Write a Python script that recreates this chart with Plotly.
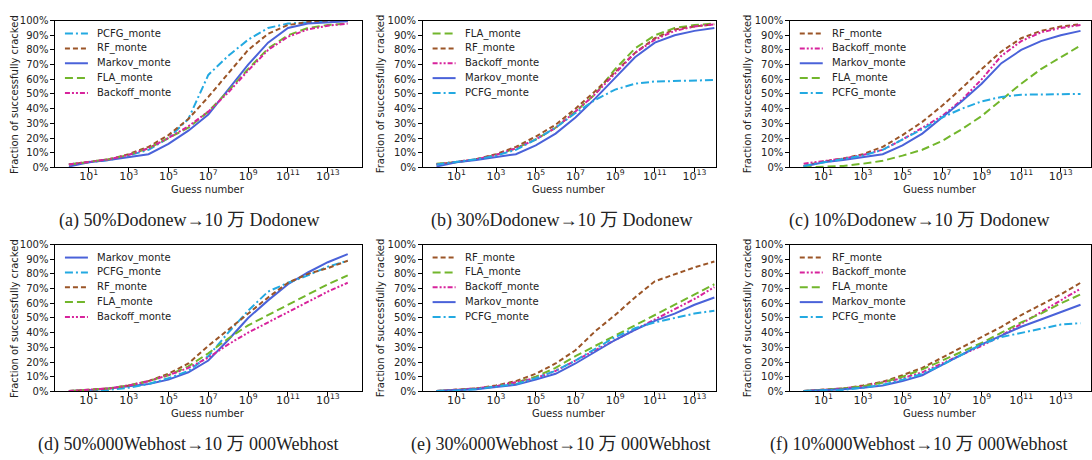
import plotly.graph_objects as go

# ---------------- data ----------------
GUESSES = [1, 10, 100, 1e3, 1e4, 1e5, 1e6, 1e7, 1e8, 1e9, 1e10, 1e11, 1e12, 1e13, 1e14]

# (a) 50%Dodonew -> 10万 Dodonew
A_PCFG    = [2, 3.5, 5, 8, 12, 20, 33, 63, 76, 87, 95, 98, 99, 99.5, 100]
A_RF      = [2, 3.5, 5.5, 9, 14, 22, 33, 48, 64, 80, 91, 97, 99, 99.5, 100]
A_MARKOV  = [0.5, 3.5, 5, 7, 9, 16, 25, 36, 53, 70, 85, 95, 98, 99, 99.5]
A_FLA     = [2, 3.5, 5.5, 8.5, 13, 20, 27, 38, 52, 67, 81, 90, 95, 97, 98]
A_BACKOFF = [2, 3.5, 5.5, 8.5, 13, 20, 28, 38, 51, 66, 80, 89, 94, 96.5, 98]

# (b) 30%Dodonew -> 10万 Dodonew
B_FLA     = [2.5, 3.5, 5.5, 8.5, 13, 19, 27, 38, 50, 67, 81, 90, 95, 97, 98]
B_RF      = [2, 3.5, 5.5, 9, 14, 21, 29, 40, 52, 65, 78, 88, 94, 96, 97.5]
B_BACKOFF = [2, 3.5, 5.5, 8.5, 13, 19, 27, 38, 50, 64, 78, 87, 93, 96, 97.5]
B_MARKOV  = [0.5, 3.5, 5, 7, 9, 15, 23, 34, 47, 61, 75, 85, 90, 93, 95]
B_PCFG    = [2, 3.5, 5.5, 8, 12, 19, 27, 37, 46, 53, 57, 58.5, 59, 59.5, 59.5]

# (c) 10%Dodonew -> 10万 Dodonew
C_RF      = [1, 4, 6, 9, 14, 22, 31, 42, 54, 67, 79, 88, 93, 96, 97.5]
C_BACKOFF = [2.5, 4, 6, 8.5, 12, 19, 27, 35, 46, 60, 76, 86, 92, 95, 97]
C_MARKOV  = [0.5, 3.5, 5, 7, 9, 15, 23, 34, 45, 57, 71, 80, 86, 90, 93]
C_FLA     = [0, 0.5, 1, 2.5, 4.5, 8, 12, 18, 26, 35, 46, 57, 67, 75, 83]
C_PCFG    = [1, 3.5, 5.5, 8, 12, 19, 26, 34, 40, 45, 48, 49.5, 49.7, 50, 50]

# (d) 50%000Webhost -> 10万 000Webhost
D_MARKOV  = [0.3, 0.8, 2, 3.5, 5, 8, 13, 21, 35, 50, 62, 73, 81, 88, 93.5]
D_PCFG    = [0, 0.5, 1, 2.5, 5, 9, 14, 24, 40, 55, 68, 74, 79, 85, 89]
D_RF      = [0.3, 1, 2, 4, 7, 12, 19, 31, 42, 53, 64, 74, 80, 84, 89]
D_FLA     = [0.3, 1, 2, 4, 7, 11, 17, 26, 36, 45, 52, 59, 66, 73, 79]
D_BACKOFF = [0.3, 1, 2, 4, 7, 11, 16, 23, 32, 40, 47, 54, 61, 68, 74]

# (e) 30%000Webhost -> 10万 000Webhost
E_RF      = [0.3, 1, 2, 4, 7, 12, 19, 28, 41, 52, 64, 75, 80, 84.5, 88.5]
E_FLA     = [0.3, 1, 2, 3.5, 6, 10, 16, 24, 31, 38, 45, 52, 59, 66, 73]
E_BACKOFF = [0.3, 1, 2, 3.5, 6, 9, 14, 21, 28, 35, 42, 49, 56, 63, 71]
E_MARKOV  = [0.3, 0.8, 1.5, 3, 4.5, 8, 12, 19, 27, 35, 42, 48, 53, 59, 64]
E_PCFG    = [0.3, 0.5, 1.5, 3, 5, 9, 14, 21, 29, 37, 43, 47, 50, 53, 55]

# (f) 10%000Webhost -> 10万 000Webhost
F_RF      = [0.3, 1, 2, 4, 6.5, 11, 16, 23, 30, 37, 44, 52, 59, 66, 74]
F_BACKOFF = [0.3, 1, 2, 3.5, 6, 9, 13, 19, 25, 31, 38, 46, 54, 62, 70]
F_FLA     = [0.3, 1, 2, 3.5, 6, 10, 15, 21, 27, 33, 40, 47, 53, 60, 66]
F_MARKOV  = [0.3, 0.8, 1.5, 2.5, 4, 7, 11, 18, 25, 32, 38, 44, 49, 54, 59]
F_PCFG    = [0.2, 0.5, 1, 2.5, 4.5, 8, 12, 18, 25, 32, 37, 40, 43, 45.5, 46.5]

CAPTIONS = [
    "(a) 50%Dodonew→10 万 Dodonew",
    "(b) 30%Dodonew→10 万 Dodonew",
    "(c) 10%Dodonew→10 万 Dodonew",
    "(d) 50%000Webhost→10 万 000Webhost",
    "(e) 30%000Webhost→10 万 000Webhost",
    "(f) 10%000Webhost→10 万 000Webhost",
]
X_TICKS = [10, 1e3, 1e5, 1e7, 1e9, 1e11, 1e13]
X_TICKTEXT = ["10<sup>1</sup>", "10<sup>3</sup>", "10<sup>5</sup>", "10<sup>7</sup>",
              "10<sup>9</sup>", "10<sup>11</sup>", "10<sup>13</sup>"]
Y_TICKS = [0, 10, 20, 30, 40, 50, 60, 70, 80, 90, 100]
Y_TICKTEXT = [f"{v}%" for v in Y_TICKS]

PANELS = [
    [("PCFG_monte", A_PCFG), ("RF_monte", A_RF), ("Markov_monte", A_MARKOV), ("FLA_monte", A_FLA), ("Backoff_monte", A_BACKOFF)],
    [("FLA_monte", B_FLA), ("RF_monte", B_RF), ("Backoff_monte", B_BACKOFF), ("Markov_monte", B_MARKOV), ("PCFG_monte", B_PCFG)],
    [("RF_monte", C_RF), ("Backoff_monte", C_BACKOFF), ("Markov_monte", C_MARKOV), ("FLA_monte", C_FLA), ("PCFG_monte", C_PCFG)],
    [("Markov_monte", D_MARKOV), ("PCFG_monte", D_PCFG), ("RF_monte", D_RF), ("FLA_monte", D_FLA), ("Backoff_monte", D_BACKOFF)],
    [("RF_monte", E_RF), ("FLA_monte", E_FLA), ("Backoff_monte", E_BACKOFF), ("Markov_monte", E_MARKOV), ("PCFG_monte", E_PCFG)],
    [("RF_monte", F_RF), ("Backoff_monte", F_BACKOFF), ("FLA_monte", F_FLA), ("Markov_monte", F_MARKOV), ("PCFG_monte", F_PCFG)],
]

# ---------------- styles ----------------
STYLE = {
    "PCFG_monte":    dict(color="#23a9e1", dash="8px,3px,2px,3px"),
    "RF_monte":      dict(color="#9b5527", dash="5px,3px"),
    "Markov_monte":  dict(color="#4a62d9", dash="solid"),
    "FLA_monte":     dict(color="#72b62c", dash="8px,4px"),
    "Backoff_monte": dict(color="#d7239c", dash="5px,2px,2px,2px,2px,2px"),
}

W, H = 1092, 460
# pixel geometry of each panel column: (left, right, xmax_log)
COLS = [(55, 362, 14.7), (423, 717, 14.1), (790.5, 1092, 14.53)]
ROWS = [(15, 165.7), (245, 395.7)]
YLABEL_X = [15, 381.7, 749]
CAP_X = [189, 562, 920]
TXT = "#222"

fig = go.Figure()
layout = dict(
    width=W, height=H, margin=dict(l=0, r=0, t=0, b=0),
    paper_bgcolor="white", plot_bgcolor="white", showlegend=False,
    font=dict(family="DejaVu Sans", size=10, color=TXT),
)
annotations = []
shapes = []

for idx, series in enumerate(PANELS):
    r, c = divmod(idx, 3)
    left, right, xmax = COLS[c]
    top, bottom = ROWS[r]
    n = idx + 1
    xa = "x" if n == 1 else f"x{n}"
    ya = "y" if n == 1 else f"y{n}"
    for k, (name, vals) in enumerate(series):
        st = STYLE[name]
        fig.add_trace(go.Scatter(
            x=GUESSES, y=vals, mode="lines", name=name,
            line=dict(color=st["color"], dash=st["dash"], width=2),
            xaxis=xa, yaxis=ya,
        ))
        # legend entry (inside upper-left of the panel)
        ly = top + 13.3 + k * 15.25
        shapes.append(dict(
            type="line", xref="paper", yref="paper",
            x0=(left + 10) / W, x1=(left + 33) / W, y0=1 - ly / H, y1=1 - ly / H,
            line=dict(color=st["color"], dash=st["dash"], width=2),
        ))
        annotations.append(dict(
            text=name, x=(left + 40) / W, y=1 - ly / H, xref="paper", yref="paper",
            showarrow=False, xanchor="left", yanchor="middle",
            font=dict(size=10, color=TXT),
        ))
    common = dict(
        ticks="outside", ticklen=3.5, tickwidth=0.8, tickcolor="black",
        showline=True, linecolor="black", linewidth=1, mirror=True,
        showgrid=False, zeroline=False,
    )
    layout[f"xaxis{'' if n == 1 else n}"] = dict(
        domain=[left / W, min(right / W, 1)], anchor=ya, type="log",
        range=[-0.7, xmax], tickvals=X_TICKS, ticktext=X_TICKTEXT,
        ticklabelstandoff=-5, tickfont=dict(size=11, color=TXT), **common,
    )
    layout[f"yaxis{'' if n == 1 else n}"] = dict(
        domain=[1 - bottom / H, 1 - top / H], anchor=xa,
        range=[0, 100], tickvals=Y_TICKS, ticktext=Y_TICKTEXT,
        tickfont=dict(size=10, color=TXT), **common,
    )
    # axis titles
    annotations.append(dict(
        text="Guess number", x=(left + min(right, 1095)) / 2 / W, y=1 - (bottom + 23) / H,
        xref="paper", yref="paper", showarrow=False, font=dict(size=10, color=TXT),
        xanchor="center", yanchor="middle",
    ))
    annotations.append(dict(
        text="Fraction of successfully cracked", x=YLABEL_X[c] / W, y=1 - (top + bottom) / 2 / H,
        xref="paper", yref="paper", showarrow=False, textangle=-90,
        font=dict(size=10, color=TXT), xanchor="center", yanchor="middle",
    ))
    annotations.append(dict(
        text=CAPTIONS[idx], x=CAP_X[c] / W, y=1 - (bottom + 54.5) / H,
        xref="paper", yref="paper", showarrow=False,
        font=dict(size=18, family="Liberation Serif, Noto Sans CJK SC", color=TXT),
        xanchor="center", yanchor="middle",
    ))

layout["annotations"] = annotations
layout["shapes"] = shapes
fig.update_layout(**layout)
fig.write_html("out.html", config={"displayModeBar": False},
               post_script="document.body.style.margin='0';")
